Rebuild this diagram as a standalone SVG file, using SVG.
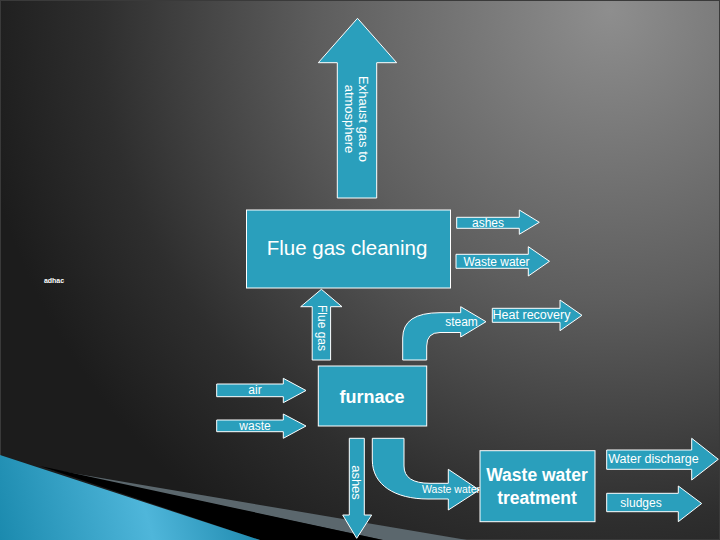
<svg xmlns="http://www.w3.org/2000/svg" width="720" height="540" viewBox="0 0 720 540">
<defs>
<radialGradient id="bg" gradientUnits="userSpaceOnUse" cx="610" cy="10" r="640">
<stop offset="0" stop-color="#8e8e8e"/>
<stop offset="0.45" stop-color="#5e5e5e"/>
<stop offset="0.8" stop-color="#2e2e2e"/>
<stop offset="1" stop-color="#1c1c1c"/>
</radialGradient>
<linearGradient id="blueDeco" gradientUnits="userSpaceOnUse" x1="0" y1="540" x2="260" y2="470">
<stop offset="0" stop-color="#1b8aae"/>
<stop offset="0.55" stop-color="#4fb6da"/>
<stop offset="1" stop-color="#1883a8"/>
</linearGradient>
<style>
.blk{fill:#2a9fbc;stroke:#ffffff;stroke-width:1}
.t{fill:#ffffff;font-family:"Liberation Sans",Arial,sans-serif}
</style>
</defs>
<rect x="0" y="0" width="720" height="540" fill="url(#bg)"/>
<rect x="0.5" y="0.5" width="719" height="539" fill="none" stroke="#3a3a3a" stroke-width="1"/>
<g id="decoration">
<polygon points="48,469 467,540 383,540" fill="#5b676d"/>
<polygon points="40,466 383,540 260,540" fill="#000000"/>
<polygon points="0,455 260,540 0,540" fill="url(#blueDeco)"/>
</g>
<text class="t" x="54" y="283" font-size="7" font-weight="bold" text-anchor="middle">adhac</text>
<g id="connectors">
<g id="exhaust">
<path class="blk" d="M337.3,198 L337.3,62.7 L318.3,62.7 L357.5,18.3 L396.7,62.7 L376.7,62.7 L376.7,198 Z"/>
<text class="t" font-size="13" text-anchor="middle" transform="translate(358.5,119) rotate(90)">Exhaust gas to</text>
<text class="t" font-size="13" text-anchor="middle" transform="translate(344.6,119) rotate(90)">atmosphere</text>
</g>
<g id="ashes-top">
<path class="blk" d="M456.7,217.3 L519.3,217.3 L519.3,210 L539.3,222.3 L519.3,234.3 L519.3,228.3 L456.7,228.3 Z"/>
<text class="t" x="488" y="226.5" font-size="12" text-anchor="middle">ashes</text>
</g>
<g id="wastewater-top">
<path class="blk" d="M456,254.3 L528.3,254.3 L528.3,246.7 L549.5,261.3 L528.3,276 L528.3,268.3 L456,268.3 Z"/>
<text class="t" x="496.5" y="265.5" font-size="12" text-anchor="middle">Waste water</text>
</g>
<g id="flue-gas">
<path class="blk" d="M312.2,360 L312.2,306.7 L300.7,306.7 L321.4,289.3 L342,306.7 L330.6,306.7 L330.6,360 Z"/>
<text class="t" font-size="12" text-anchor="middle" transform="translate(317.6,328) rotate(90)">Flue gas</text>
</g>
<g id="steam">
<path class="blk" d="M402.7,360 L402.7,338 Q402.7,312.7 440,312.7 L460.7,312.7 L460.7,306.7 L486,321.7 L460.7,337 L460.7,332.5 L440,332.5 Q426.7,332.5 426.7,346 L426.7,360 Z"/>
<text class="t" x="461.5" y="326" font-size="12" text-anchor="middle">steam</text>
</g>
<g id="heat-recovery">
<path class="blk" d="M492.3,308.3 L560,308.3 L560,300 L582,315.3 L560,330.7 L560,322.3 L492.3,322.3 Z"/>
<text class="t" x="531.5" y="319" font-size="12.5" text-anchor="middle">Heat recovery</text>
</g>
<g id="air">
<path class="blk" d="M216.7,384 L283.3,384 L283.3,378.3 L306,390.5 L283.3,402.7 L283.3,396.7 L216.7,396.7 Z"/>
<text class="t" x="255" y="393.5" font-size="12" text-anchor="middle">air</text>
</g>
<g id="waste">
<path class="blk" d="M216.7,420 L283.3,420 L283.3,414 L306,426 L283.3,438.3 L283.3,431.7 L216.7,431.7 Z"/>
<text class="t" x="255" y="430" font-size="12" text-anchor="middle">waste</text>
</g>
<g id="ashes-bottom">
<path class="blk" d="M349.3,438.3 L364.3,438.3 L364.3,515 L371.7,515 L356.7,538.3 L342.7,515 L349.3,515 Z"/>
<text class="t" font-size="13" text-anchor="middle" transform="translate(352,482.5) rotate(90)">ashes</text>
</g>
<g id="wastewater-bottom">
<path class="blk" d="M372.3,438.3 L404,438.3 L404,466 Q404,483.3 430,483.3 L448.3,483.3 L448.3,469.3 L479.3,490 L448.3,510 L448.3,499 L428,499 C395,499 372.3,485 372.3,460 Z"/>
<text class="t" x="480" y="493" font-size="10.5" text-anchor="end">Waste water</text>
</g>
<g id="water-discharge">
<path class="blk" d="M606.7,450 L691.7,450 L691.7,438.3 L718.3,459.3 L691.7,480 L691.7,469.3 L606.7,469.3 Z"/>
<text class="t" x="653.5" y="462.5" font-size="12.5" text-anchor="middle">Water discharge</text>
</g>
<g id="sludges">
<path class="blk" d="M606.7,493.3 L678.3,493.3 L678.3,486 L701.7,503.5 L678.3,521.7 L678.3,511.7 L606.7,511.7 Z"/>
<text class="t" x="641" y="507" font-size="12" text-anchor="middle">sludges</text>
</g>
</g>
<g id="flue-gas-cleaning">
<rect class="blk" x="246.5" y="210" width="204" height="78"/>
<text class="t" x="347" y="255" font-size="20.5" text-anchor="middle">Flue gas cleaning</text>
</g>
<g id="furnace">
<rect class="blk" x="318.3" y="366" width="108.4" height="60"/>
<text class="t" x="372" y="403" font-size="18" font-weight="bold" text-anchor="middle">furnace</text>
</g>
<g id="waste-water-treatment">
<rect class="blk" x="480" y="450.7" width="115" height="71"/>
<text class="t" x="537" y="480.5" font-size="17.5" font-weight="bold" text-anchor="middle">Waste water</text>
<text class="t" x="537" y="503.5" font-size="17.5" font-weight="bold" text-anchor="middle">treatment</text>
</g>
</svg>
